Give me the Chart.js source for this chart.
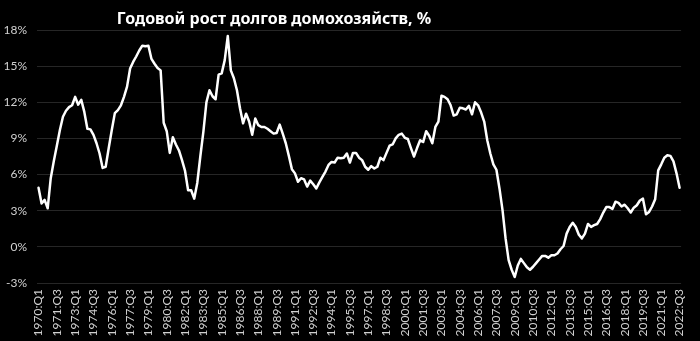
<!DOCTYPE html>
<html>
<head>
<meta charset="utf-8">
<script src="https://cdn.jsdelivr.net/npm/chart.js@4.4.1/dist/chart.umd.min.js"></script>
<style>
  html, body { margin: 0; padding: 0; background: #000; }
  #wrap { width: 700px; height: 341px; position: relative; }
</style>
</head>
<body>
<div id="wrap"><canvas id="c" width="700" height="341"></canvas></div>
<script>
// Chart title
const chartTitle = 'Годовой рост долгов домохозяйств, %';

// Quarterly categories: 1970:Q1 .. 2022:Q3
const firstYear = 1970;
const lastYear = 2022;
const lastQuarter = 3;

// Y-axis tick settings
const yMin = -3;
const yMax = 18;
const yStep = 3;

// Every 6th quarter gets a label
const labelEvery = 6;

// Annual household debt growth, %
const growth1970s = [
  4.9, 3.6, 3.9, 3.2, 5.7, 7.1, 8.4, 9.7, 10.8, 11.3,
  11.6, 11.75, 12.45, 11.8, 12.2, 11.2, 9.8, 9.75, 9.3, 8.6,
  7.75, 6.55, 6.65, 8.2, 9.7, 11.1, 11.35, 11.75, 12.45, 13.3,
  14.8, 15.35, 15.8, 16.3, 16.7, 16.65, 16.7, 15.6, 15.2, 14.85
];
const growth1980s = [
  14.65, 10.3, 9.6, 7.8, 9.1, 8.5, 8.0, 7.2, 6.3, 4.7,
  4.7, 4.0, 5.3, 7.5, 9.55, 12.0, 13.0, 12.5, 12.25, 14.3,
  14.4, 15.5, 17.5, 14.65, 14.0, 13.0, 11.5, 10.25, 11.05, 10.4,
  9.3, 10.65, 10.1, 9.95, 9.95, 9.8, 9.6, 9.4, 9.45, 10.15
];
const growth1990s = [
  9.4, 8.6, 7.55, 6.45, 6.1, 5.4, 5.7, 5.6, 5.0, 5.5,
  5.2, 4.85, 5.35, 5.8, 6.25, 6.8, 7.05, 7.0, 7.4, 7.35,
  7.4, 7.75, 7.0, 7.8, 7.8, 7.4, 7.2, 6.65, 6.4, 6.7,
  6.5, 6.65, 7.4, 7.2, 7.8, 8.4, 8.5, 9.0, 9.3, 9.4
];
const growth2000s = [
  9.05, 8.95, 8.2, 7.5, 8.2, 8.85, 8.7, 9.6, 9.2, 8.6,
  9.95, 10.4, 12.55, 12.45, 12.25, 11.75, 10.9, 11.0, 11.55, 11.5,
  11.4, 11.7, 11.0, 12.0, 11.75, 11.15, 10.4, 8.85, 7.75, 6.85,
  6.4, 4.85, 3.05, 0.7, -1.1, -1.9, -2.5, -1.55, -1.0, -1.35
];
const growth2010s = [
  -1.7, -1.9, -1.65, -1.35, -1.05, -0.75, -0.75, -0.9, -0.7, -0.7,
  -0.55, -0.2, 0.07, 1.1, 1.65, 2.0, 1.65, 1.0, 0.7, 1.1,
  1.9, 1.65, 1.8, 1.9, 2.3, 2.85, 3.3, 3.3, 3.15, 3.75,
  3.65, 3.35, 3.5, 3.2, 2.85, 3.25, 3.45, 3.85, 4.0, 2.7
];
const growth2020s = [
  2.9, 3.35, 3.95, 6.35, 6.85, 7.4, 7.6, 7.55, 7.1, 6.1, 4.9
];

const values = [].concat(growth1970s, growth1980s, growth1990s, growth2000s, growth2010s, growth2020s);

const categories = [];
for (let y = firstYear; y <= lastYear; y++) {
  for (let q = 1; q <= 4; q++) {
    if (y === lastYear && q > lastQuarter) break;
    categories.push(y + ':Q' + q);
  }
}

const bgPlugin = {
  id: 'bg',
  beforeDraw(chart) {
    const ctx = chart.ctx;
    ctx.save();
    ctx.fillStyle = '#000';
    ctx.fillRect(0, 0, chart.width, chart.height);
    ctx.restore();
  }
};

const titlePlugin = {
  id: 'customTitle',
  afterDraw(chart) {
    const ctx = chart.ctx;
    ctx.save();
    ctx.fillStyle = '#ffffff';
    ctx.font = 'bold 16px "Noto Sans", "Open Sans", sans-serif';
    ctx.textAlign = 'center';
    ctx.textBaseline = 'alphabetic';
    ctx.fillText(chartTitle, 274, 24);
    ctx.restore();
  }
};

const tickColor = '#d0d0d0';
const gridColor = '#262626';

new Chart(document.getElementById('c'), {
  type: 'line',
  data: {
    labels: categories,
    datasets: [{
      data: values,
      borderColor: '#ffffff',
      borderWidth: 2.5,
      borderJoinStyle: 'round',
      borderCapStyle: 'round',
      pointRadius: 0,
      tension: 0,
      fill: false
    }]
  },
  options: {
    responsive: false,
    animation: false,
    devicePixelRatio: 1,
    layout: { padding: { top: 30, right: 10, left: 0, bottom: 0 } },
    plugins: {
      legend: { display: false },
      tooltip: { enabled: false },
      title: { display: false }
    },
    scales: {
      x: {
        type: 'category',
        offset: true,
        grid: { display: false, drawTicks: false },
        border: { display: false },
        ticks: {
          autoSkip: false,
          maxRotation: 90,
          minRotation: 90,
          padding: 6,
          color: tickColor,
          font: { family: 'Lato, "Liberation Sans", sans-serif', size: 12 },
          callback: function(value, index) {
            return index % labelEvery === 0 ? this.getLabelForValue(value) : null;
          }
        },
        afterFit(scale) { scale.height = 58; }
      },
      y: {
        min: yMin,
        max: yMax,
        grid: { color: gridColor, lineWidth: 1, drawTicks: false },
        border: { display: false },
        ticks: {
          stepSize: yStep,
          padding: 10,
          color: tickColor,
          font: { family: 'Lato, "Liberation Sans", sans-serif', size: 12 },
          callback: v => v + '%'
        },
        afterFit(scale) { scale.width = 37; }
      }
    }
  },
  plugins: [bgPlugin, titlePlugin]
});
</script>
</body>
</html>
